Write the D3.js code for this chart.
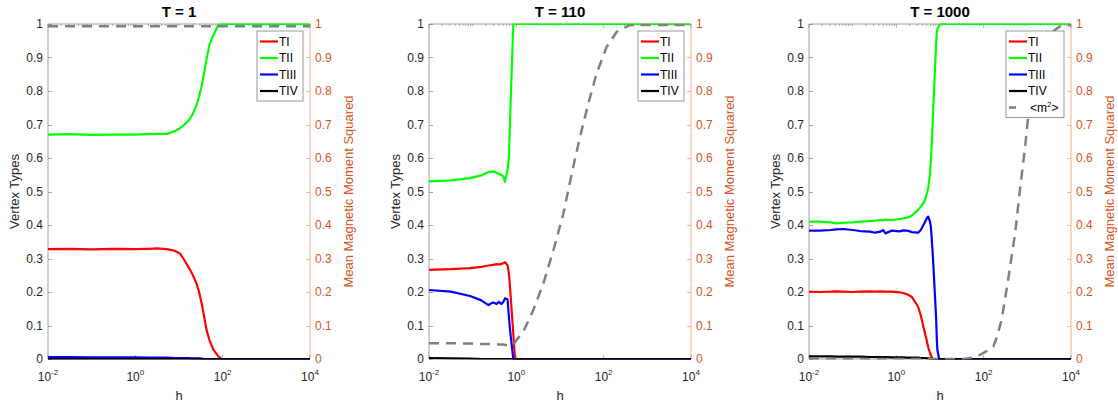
<!DOCTYPE html>
<meta charset="utf-8">
<style>
body { margin: 0; background: #fff; }
svg { font-family: "Liberation Sans", Arial, sans-serif; }
.tick-label { font-size: 12px; fill: #262626; }
.right-label { font-size: 12px; fill: #D95319; }
</style>
<svg width="1118" height="407"></svg>
<script src="https://cdn.jsdelivr.net/npm/d3@7/dist/d3.min.js"></script>
<script>

// ---- data ----
var titles = ["T = 1", "T = 110", "T = 1000"];
var yTicks = [0, 0.1, 0.2, 0.3, 0.4, 0.5, 0.6, 0.7, 0.8, 0.9, 1];
var xTickExp = [-2, 0, 2, 4];
var seriesNames = ["TI", "TII", "TIII", "TIV"];
var seriesColors = ["#ff0000", "#00ff00", "#0000ff", "#000000"];

// T = 1
var t1_h    = [0.01,0.0316,0.1,0.316,1,2,3.16,5.25,7.94,10.5,12.6,16.2,20,25.1,28.8,33.1,37.2,42.7,50.1,61.7,79.4,95.5,316,1000,3162,10000];
var t1_TI   = [0.328,0.329,0.327,0.329,0.328,0.329,0.330,0.328,0.323,0.315,0.300,0.276,0.255,0.226,0.200,0.166,0.130,0.087,0.055,0.027,0.008,0,0,0,0,0];
var t1_TII  = [0.670,0.671,0.669,0.670,0.670,0.671,0.672,0.672,0.680,0.689,0.697,0.710,0.728,0.757,0.783,0.815,0.850,0.895,0.940,0.967,0.997,1,1,1,1,1];
var t1_TIII = [0.006,0.006,0.005,0.005,0.005,0.004,0.004,0.004,0.003,0.003,0.003,0.003,0.002,0.002,0.002,0.001,0,0,0,0,0,0,0,0,0,0];
var t1_TIV  = [0,0,0,0,0,0,0,0,0,0,0,0,0,0,0,0,0,0,0,0,0,0,0,0,0,0];
var t1_m2   = [0.993,0.993,0.993,0.993,0.993,0.993,0.993,0.993,0.993,0.993,0.993,0.993,0.993,0.993,0.993,0.993,0.993,0.993,0.993,0.993,0.993,0.993,0.993,0.993,0.993,0.993];

// T = 110
var t2_h    = [0.01,0.0316,0.0871,0.158,0.229,0.295,0.355,0.398,0.457,0.501,0.550,0.631,0.676,0.708,0.776,0.851,0.933,1,1.45,2.45,4.17,7.08,12.0,18.6,28.8,44.7,69.2,117,200,398,1000,3162,10000];
var t2_TI   = [0.266,0.268,0.271,0.275,0.279,0.281,0.283,0.282,0.284,0.286,0.289,0.280,0.255,0.226,0.150,0.077,0,0,0,0,0,0,0,0,0,0,0,0,0,0,0,0,0];
var t2_TII  = [0.530,0.533,0.540,0.548,0.558,0.560,0.556,0.552,0.550,0.545,0.529,0.565,0.600,0.690,0.845,1,1,1,1,1,1,1,1,1,1,1,1,1,1,1,1,1,1];
var t2_TIII = [0.206,0.201,0.188,0.175,0.161,0.169,0.164,0.171,0.164,0.170,0.181,0.178,0.126,0.095,0.047,0,0,0,0,0,0,0,0,0,0,0,0,0,0,0,0,0,0];
var t2_TIV  = [0.003,0.002,0.001,0,0,0,0,0,0,0,0,0,0,0,0,0,0,0,0,0,0,0,0,0,0,0,0,0,0,0,0,0,0];
var t2_m2   = [0.047,0.047,0.046,0.045,0.045,0.044,0.044,0.043,0.043,0.043,0.042,0.042,0.042,0.042,0.042,0.043,0.050,0.056,0.082,0.146,0.226,0.325,0.435,0.554,0.664,0.763,0.853,0.932,0.977,0.997,0.997,0.997,0.997];

// T = 1000
var t3_h    = [0.01,0.0178,0.0316,0.0427,0.0617,0.1,0.148,0.251,0.324,0.427,0.501,0.562,0.776,
               1.20,1.45,1.74,2.04,2.24,3.16,3.63,4.17,4.57,5.13,5.37,5.89,6.17,6.46,6.76,7.08,7.94,8.13,8.51,8.71,9.55,10,
               15.8,33.9,56.2,81.3,112,166,200,257,363,525,676,891,1047,1259,1995,2818,4266,5623,10000];
var t3_TI   = [0.201,0.200,0.201,0.202,0.201,0.200,0.201,0.202,0.201,0.202,0.201,0.201,0.201,
               0.199,0.197,0.193,0.189,0.186,0.156,0.130,0.096,0.075,0.047,0.035,0.018,0.012,0.006,0,0,0,0,0,0,0,0,
               0,0,0,0,0,0,0,0,0,0,0,0,0,0,0,0,0,0,0];
var t3_TII  = [0.410,0.410,0.408,0.405,0.407,0.408,0.410,0.412,0.413,0.415,0.414,0.416,0.415,
               0.418,0.420,0.422,0.425,0.428,0.445,0.455,0.465,0.475,0.500,0.510,0.550,0.590,0.640,0.700,0.760,0.910,0.940,0.980,0.985,0.995,1,
               1,1,1,1,1,1,1,1,1,1,1,1,1,1,1,1,1,1,1];
var t3_TIII = [0.383,0.383,0.385,0.387,0.388,0.385,0.382,0.380,0.377,0.380,0.385,0.375,0.383,
               0.381,0.384,0.383,0.381,0.379,0.377,0.385,0.400,0.410,0.423,0.425,0.410,0.395,0.360,0.320,0.276,0.150,0.126,0.050,0.027,0,0,
               0,0,0,0,0,0,0,0,0,0,0,0,0,0,0,0,0,0,0];
var t3_TIV  = [0.008,0.008,0.008,0.007,0.007,0.007,0.007,0.006,0.006,0.006,0.006,0.006,0.005,
               0.005,0.005,0.004,0.004,0.004,0.004,0.003,0.003,0.003,0.002,0.002,0.001,0.001,0.001,0,0,0,0,0,0,0,0,
               0,0,0,0,0,0,0,0,0,0,0,0,0,0,0,0,0,0,0];
var t3_m2   = [0,0,0,0,0,0,0,0,0,0,0,0,0,
               0,0,0,0,0,0,0,0,0,0,0,0,0,0,0,0,0,0,0,0,0,0,
               0,0,0.004,0.012,0.022,0.037,0.065,0.116,0.236,0.375,0.504,0.634,0.723,0.800,0.910,0.960,0.982,0.993,0.997];

var panels = [
  { h: t1_h, types: [t1_TI, t1_TII, t1_TIII, t1_TIV], m2: t1_m2, m2Legend: false },
  { h: t2_h, types: [t2_TI, t2_TII, t2_TIII, t2_TIV], m2: t2_m2, m2Legend: false },
  { h: t3_h, types: [t3_TI, t3_TII, t3_TIII, t3_TIV], m2: t3_m2, m2Legend: true }
];

// ---- layout ----
var svg = d3.select("svg");
var lefts = [48, 429, 809],
    plotW = 262,
    plotTop = 24,
    plotBottom = 359;
var orange = "#D95319";
var dash = "10,7";

panels.forEach(function(p, i) {
  var x0 = lefts[i], x1 = x0 + plotW;
  var x = d3.scaleLog().domain([1e-2, 1e4]).range([x0, x1]);
  var y = d3.scaleLinear().domain([0, 1]).range([plotBottom, plotTop]);
  var yR = d3.scaleLinear().domain([0, 1]).range([plotBottom, plotTop]);

  var g = svg.append("g");

  g.append("clipPath").attr("id", "clip" + i)
    .append("rect").attr("x", x0).attr("y", plotTop - 0.5).attr("width", plotW).attr("height", plotBottom - plotTop + 1);

  // minor / major x ticks at top and bottom
  var minor = [];
  for (var e = -2; e < 4; e++) for (var k = 1; k < 10; k++) minor.push(k * Math.pow(10, e));
  minor.push(1e4);
  g.selectAll(".xt").data(minor).enter().append("line")
    .attr("x1", function(d) { return x(d); }).attr("x2", function(d) { return x(d); })
    .attr("y1", plotTop).attr("y2", function(d) {
      var major = xTickExp.some(function(e) { return Math.abs(Math.log10(d) - e) < 1e-9; });
      return plotTop + (major ? 4 : 2);
    })
    .attr("stroke", "#7a7a7a").attr("stroke-width", 0.6);
  g.selectAll(".xb").data(xTickExp).enter().append("line")
    .attr("x1", function(d) { return x(Math.pow(10, d)); }).attr("x2", function(d) { return x(Math.pow(10, d)); })
    .attr("y1", plotBottom).attr("y2", plotBottom - 4)
    .attr("stroke", "#7a7a7a").attr("stroke-width", 0.6);

  // y ticks left & right
  g.selectAll(".yl").data(yTicks).enter().append("line")
    .attr("x1", x0).attr("x2", x0 + 4)
    .attr("y1", function(d) { return Math.round(y(d)) + 0.5; }).attr("y2", function(d) { return Math.round(y(d)) + 0.5; })
    .attr("stroke", "#7a7a7a").attr("stroke-width", 0.7);
  g.selectAll(".yr").data(yTicks).enter().append("line")
    .attr("x1", x1).attr("x2", x1 - 4)
    .attr("y1", function(d) { return Math.round(yR(d)) + 0.5; }).attr("y2", function(d) { return Math.round(yR(d)) + 0.5; })
    .attr("stroke", orange).attr("stroke-opacity", 0.6).attr("stroke-width", 0.7);

  // box
  g.append("line").attr("x1", x0).attr("x2", x1).attr("y1", plotTop).attr("y2", plotTop).attr("stroke", "#8a8a8a").attr("stroke-width", 0.8);
  g.append("line").attr("x1", x0).attr("x2", x1).attr("y1", plotBottom).attr("y2", plotBottom).attr("stroke", "#8a8a8a").attr("stroke-width", 0.8);
  g.append("line").attr("x1", x0).attr("x2", x0).attr("y1", plotTop).attr("y2", plotBottom).attr("stroke", "#8a8a8a").attr("stroke-width", 0.8);
  g.append("line").attr("x1", x1).attr("x2", x1).attr("y1", plotTop).attr("y2", plotBottom).attr("stroke", orange).attr("stroke-opacity", 0.45).attr("stroke-width", 1);

  // tick labels
  g.selectAll(".ylab").data(yTicks).enter().append("text")
    .attr("class", "tick-label")
    .attr("x", x0 - 5).attr("y", function(d) { return y(d); }).attr("dy", "0.35em")
    .attr("text-anchor", "end")
    .text(function(d) { return d3.format("")(d); });
  g.selectAll(".yrlab").data(yTicks).enter().append("text")
    .attr("class", "right-label")
    .attr("x", x1 + 5).attr("y", function(d) { return yR(d); }).attr("dy", "0.35em")
    .text(function(d) { return d3.format("")(d); });
  var xl = g.selectAll(".xlab").data(xTickExp).enter().append("text")
    .attr("class", "tick-label")
    .attr("x", function(d) { return x(Math.pow(10, d)); }).attr("y", 381)
    .attr("text-anchor", "middle");
  xl.append("tspan").text("10");
  xl.append("tspan").attr("dy", -6).style("font-size", "8px").text(function(d) { return d < 0 ? "-" + (-d) : d; });

  // axis labels and title
  g.append("text").attr("x", (x0 + x1) / 2).attr("y", 400).attr("text-anchor", "middle")
    .style("font-size", "13px").attr("fill", "#262626").text("h");
  g.append("text").attr("transform", "translate(" + (x0 - 34) + "," + ((plotTop + plotBottom) / 2) + ") rotate(-90)")
    .attr("text-anchor", "middle").attr("dy", "0.35em")
    .style("font-size", "13px").attr("fill", "#262626").text("Vertex Types");
  g.append("text").attr("transform", "translate(" + (x1 + 38) + "," + ((plotTop + plotBottom) / 2) + ") rotate(-90)")
    .attr("text-anchor", "middle").attr("dy", "0.35em")
    .style("font-size", "13px").attr("fill", orange).text("Mean Magnetic Moment Squared");
  g.append("text").attr("x", (x0 + x1) / 2).attr("y", 17).attr("text-anchor", "middle")
    .style("font-size", "15px").style("font-weight", "bold").attr("fill", "#000").text(titles[i]);

  // lines
  var plot = g.append("g").attr("clip-path", "url(#clip" + i + ")");
  p.types.forEach(function(vals, s) {
    var line = d3.line().x(function(d, j) { return x(p.h[j]); }).y(function(d) { return y(d); });
    plot.append("path").datum(vals).attr("d", line)
      .attr("fill", "none").attr("stroke", seriesColors[s]).attr("stroke-width", 2.2)
      .attr("stroke-linejoin", "round");
  });
  var lineR = d3.line().x(function(d, j) { return x(p.h[j]); }).y(function(d) { return yR(d); });
  plot.append("path").datum(p.m2).attr("d", lineR)
    .attr("fill", "none").attr("stroke", "#808080").attr("stroke-width", 2.5)
    .attr("stroke-dasharray", dash);

  // legend
  var lw = p.m2Legend ? 58 : 46,
      rows = p.m2Legend ? 5 : 4,
      lx = x1 - 7 - lw, ly = 31, rowH = 16.5;
  var leg = g.append("g");
  leg.append("rect").attr("x", lx).attr("y", ly).attr("width", lw).attr("height", rows * rowH + 4)
    .attr("fill", "#fff").attr("stroke", "#808080").attr("stroke-width", 0.8);
  seriesNames.forEach(function(name, s) {
    var cy = ly + 10.5 + s * rowH;
    leg.append("line").attr("x1", lx + 3).attr("x2", lx + 21).attr("y1", cy).attr("y2", cy)
      .attr("stroke", seriesColors[s]).attr("stroke-width", 2.2);
    leg.append("text").attr("x", lx + 22).attr("y", cy).attr("dy", "0.35em")
      .style("font-size", "12px").attr("fill", "#000").text(name);
  });
  if (p.m2Legend) {
    var cy = ly + 10.5 + 4 * rowH;
    leg.append("line").attr("x1", lx + 3).attr("x2", lx + 10).attr("y1", cy).attr("y2", cy)
      .attr("stroke", "#808080").attr("stroke-width", 2.5);
    var t = leg.append("text").attr("x", lx + 24).attr("y", cy).attr("dy", "0.35em")
      .style("font-size", "12px").attr("fill", "#000");
    t.append("tspan").text("<m");
    t.append("tspan").attr("dy", -5).style("font-size", "8px").text("2");
    t.append("tspan").attr("dy", 5).text(">");
  }
});

</script>
